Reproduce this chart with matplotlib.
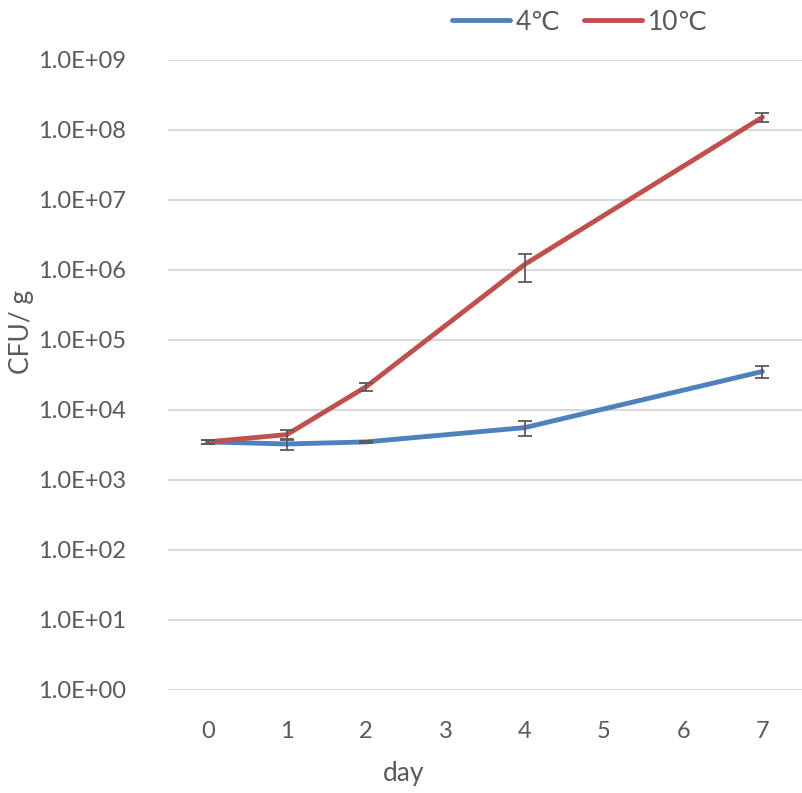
import matplotlib
matplotlib.use("Agg")
import matplotlib.pyplot as plt
import numpy as np

plt.rcParams['font.family'] = ['Lato', 'DejaVu Sans']

categories = ["0", "1", "2", "3", "4", "5", "6", "7"]
days = [0, 1, 2, 4, 7]
cfu_4c = [3.5e3, 3.27e3, 3.5e3, 5.6e3, 3.55e4]
err_4c = [0.2e3, 0.58e3, 0.1e3, 1.35e3, 0.7e4]
cfu_10c = [3.5e3, 4.45e3, 2.15e4, 1.2e6, 1.52e8]
err_10c = [0.2e3, 0.72e3, 0.28e4, 0.52e6, 0.22e8]
ytick_vals = [1e0, 1e1, 1e2, 1e3, 1e4, 1e5, 1e6, 1e7, 1e8, 1e9]
ytick_labels = ["1.0E+00", "1.0E+01", "1.0E+02", "1.0E+03", "1.0E+04",
                "1.0E+05", "1.0E+06", "1.0E+07", "1.0E+08", "1.0E+09"]

W, H = 802, 793
fig = plt.figure(figsize=(W / 100, H / 100), dpi=100)
ax = fig.add_axes([168 / W, 1 - 690 / H, (802 - 168) / W, (690 - 60) / H])

tc = "#595959"
blue = "#4f81bd"
red = "#c0504d"

ax.plot(days, cfu_4c, color=blue, lw=3.5, solid_capstyle='round', label="4℃", zorder=3)
ax.errorbar(days, cfu_4c, yerr=err_4c, fmt='none', ecolor="#5a5a5a", elinewidth=1.3,
            capsize=5, capthick=1.3, zorder=4)
ax.plot(days, cfu_10c, color=red, lw=3.5, solid_capstyle='round', label="10℃", zorder=3)
ax.errorbar(days, cfu_10c, yerr=err_10c, fmt='none', ecolor="#5a5a5a", elinewidth=1.3,
            capsize=5, capthick=1.3, zorder=4)

ax.set_yscale('log')
ax.set_ylim(1e0, 1e9)
ax.set_xlim(-0.5, 7.5)
ax.set_yticks(ytick_vals)
ax.set_yticklabels(ytick_labels)
ax.minorticks_off()
ax.set_xticks(range(len(categories)))
ax.set_xticklabels(categories)
ax.tick_params(axis='both', length=0, labelsize=17, colors=tc)
ax.tick_params(axis='y', pad=30)
ax.tick_params(axis='x', pad=22)
ax.grid(axis='y', color="#d9d9d9", lw=1.5)
ax.set_axisbelow(True)
for s in ax.spines.values():
    s.set_visible(False)

fig.text(22 / W, 1 - 332 / H, "CFU/ g", rotation=90, ha='center', va='center',
         fontsize=19, color=tc)
fig.text(404 / W, 1 - 773 / H, "day", ha='center', va='center', fontsize=19, color=tc)

leg = fig.legend(loc='center', bbox_to_anchor=(580 / W, 1 - 22 / H), ncol=2, frameon=False,
                 fontsize=19, handlelength=2.2, handletextpad=0.2, columnspacing=0.9,
                 labelcolor=tc)

fig.savefig("out.png", dpi=100)
